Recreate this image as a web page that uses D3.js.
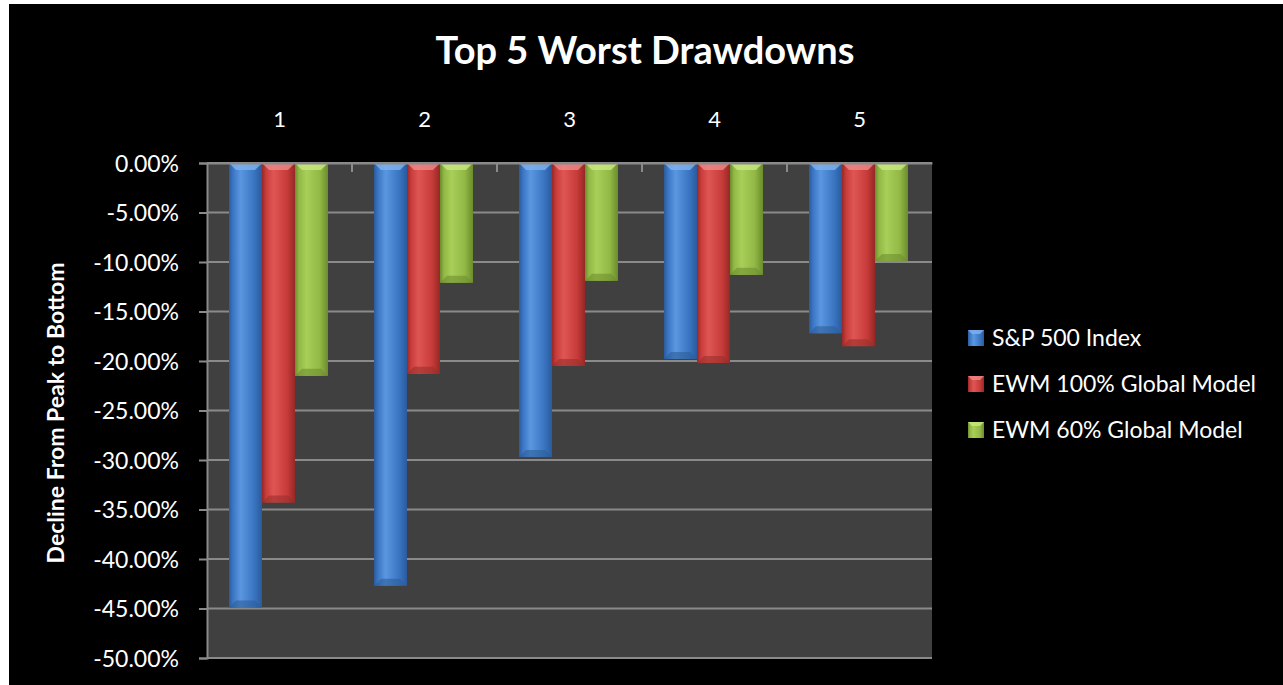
<!DOCTYPE html>
<html>
<head>
<meta charset="utf-8">
<script src="https://cdn.jsdelivr.net/npm/d3@7"></script>
<style>
  html, body { margin: 0; padding: 0; background: #ffffff; }
  svg { display: block; }
  text { font-family: Lato, "Open Sans", "DejaVu Sans", sans-serif; fill: #ffffff; }
</style>
</head>
<body>
<svg id="chart" width="1283" height="685"></svg>
<script>
// Drawdown data (percent decline from peak to bottom)
const categories = ["1", "2", "3", "4", "5"];
const seriesNames = ["S&P 500 Index", "EWM 100% Global Model", "EWM 60% Global Model"];
const sp500 = [-44.9, -42.7, -29.7, -19.8, -17.2];
const ewm100 = [-34.3, -21.3, -20.5, -20.2, -18.5];
const ewm60 = [-21.5, -12.1, -11.9, -11.3, -9.9];
const yTicks = [0, -5, -10, -15, -20, -25, -30, -35, -40, -45, -50];

const seriesValues = [sp500, ewm100, ewm60];
const palette = [
  { base: "#3b76c4", light: "#5b96e0", dark: "#2a5a9c", top: "#7fb3f0", bottom: "#2d5d98" },
  { base: "#c83c3a", light: "#de5654", dark: "#962826", top: "#ee8a88", bottom: "#9a2e2c" },
  { base: "#92b846", light: "#a8cf58", dark: "#6b8c2c", top: "#c8ea80", bottom: "#6e8e30" }
];

const svg = d3.select("#chart");
const W = 1283, H = 685;

// outer black chart area
svg.append("rect").attr("x", 9).attr("y", 4).attr("width", W - 9).attr("height", H - 4).attr("fill", "#000000");

const plot = { left: 207, right: 932, top: 163, bottom: 658 };

const x0 = d3.scaleBand().domain(categories).range([plot.left, plot.right]).paddingInner(0).paddingOuter(0);
const x1 = d3.scaleBand().domain(d3.range(seriesNames.length)).range([22, x0.bandwidth() - 24]).padding(0);
const y = d3.scaleLinear().domain([0, -50]).range([plot.top, plot.bottom]);

// gradients for bar shading
const defs = svg.append("defs");
palette.forEach((c, i) => {
  const g = defs.append("linearGradient").attr("id", "bar" + i).attr("x1", "0").attr("x2", "1").attr("y1", "0").attr("y2", "0");
  g.append("stop").attr("offset", "0%").attr("stop-color", c.dark);
  g.append("stop").attr("offset", "12%").attr("stop-color", c.base);
  g.append("stop").attr("offset", "35%").attr("stop-color", c.light);
  g.append("stop").attr("offset", "75%").attr("stop-color", c.base);
  g.append("stop").attr("offset", "100%").attr("stop-color", c.dark);
});

// plot background
svg.append("rect")
  .attr("x", plot.left).attr("y", plot.top)
  .attr("width", plot.right - plot.left).attr("height", plot.bottom - plot.top)
  .attr("fill", "#404040");

// horizontal gridlines
svg.append("g").selectAll("line").data(yTicks).join("line")
  .attr("x1", plot.left).attr("x2", plot.right)
  .attr("y1", d => y(d)).attr("y2", d => y(d))
  .attr("stroke", "#8a8a8a").attr("stroke-width", 2);

// y axis
const yAxis = d3.axisLeft(y).tickValues(yTicks).tickSize(8).tickPadding(20)
  .tickFormat(d => d.toFixed(2) + "%");
const gy = svg.append("g").attr("transform", `translate(${plot.left},0)`).call(yAxis);
gy.select(".domain").attr("stroke", "#8a8a8a").attr("stroke-width", 2);
gy.selectAll(".tick line").attr("stroke", "#8a8a8a").attr("stroke-width", 2);
gy.selectAll(".tick text").attr("fill", "#ffffff").style("font-size", "23px")
  .style("font-family", "Lato, 'Open Sans', sans-serif").attr("dy", "0.35em");

// bars
const groups = svg.append("g").selectAll("g").data(categories).join("g")
  .attr("transform", d => `translate(${x0(d)},0)`);

groups.each(function(cat, ci) {
  const g = d3.select(this);
  seriesValues.forEach((vals, si) => {
    const v = vals[ci];
    const bx = x1(si), bw = x1.bandwidth();
    const y0 = y(0), yv = y(v);
    const c = palette[si];
    g.append("rect").attr("x", bx).attr("y", y0).attr("width", bw).attr("height", yv - y0)
      .attr("fill", `url(#bar${si})`);
    // top bevel
    const b = 7;
    g.append("path")
      .attr("d", `M${bx},${y0} L${bx + bw},${y0} L${bx + bw - b},${y0 + b} L${bx + b},${y0 + b} Z`)
      .attr("fill", c.top).attr("opacity", 0.8);
    // bottom bevel
    g.append("path")
      .attr("d", `M${bx},${yv} L${bx + bw},${yv} L${bx + bw - b},${yv - b} L${bx + b},${yv - b} Z`)
      .attr("fill", c.bottom).attr("opacity", 0.6);
  });
});

// category axis along zero line (labels above the plot)
const xAxis = d3.axisTop(x0).tickSize(0).tickPadding(0);
const gx = svg.append("g").attr("transform", `translate(0,${y(0)})`).call(xAxis);
gx.select(".domain").attr("stroke", "#8a8a8a").attr("stroke-width", 2);
gx.selectAll(".tick text").attr("y", -44).attr("dy", "0.35em").attr("fill", "#ffffff")
  .style("font-size", "22px").style("font-family", "Lato, 'Open Sans', sans-serif");

// inward ticks at category boundaries
svg.append("g").selectAll("line").data(categories.slice(1)).join("line")
  .attr("x1", d => x0(d)).attr("x2", d => x0(d))
  .attr("y1", y(0)).attr("y2", y(0) + 9)
  .attr("stroke", "#8a8a8a").attr("stroke-width", 2);

// title
svg.append("text").attr("x", 645).attr("y", 64).attr("text-anchor", "middle")
  .style("font-size", "38px").style("font-weight", "bold").text("Top 5 Worst Drawdowns");

// y axis title
svg.append("text").attr("transform", `translate(64,413) rotate(-90)`).attr("text-anchor", "middle")
  .style("font-size", "23px").style("font-weight", "bold").text("Decline From Peak to Bottom");

// legend
const legend = svg.append("g").attr("transform", "translate(968,338)");
seriesNames.forEach((name, i) => {
  const row = legend.append("g").attr("transform", `translate(0,${i * 46})`);
  row.append("rect").attr("x", 0).attr("y", -8).attr("width", 16).attr("height", 16).attr("fill", `url(#bar${i})`);
  row.append("path").attr("d", "M0,-8 L16,-8 L12,-4 L4,-4 Z").attr("fill", palette[i].top).attr("opacity", 0.8);
  row.append("text").attr("x", 24).attr("y", 0).attr("dy", "0.35em")
    .style("font-size", "23px").text(name);
});
</script>
</body>
</html>
